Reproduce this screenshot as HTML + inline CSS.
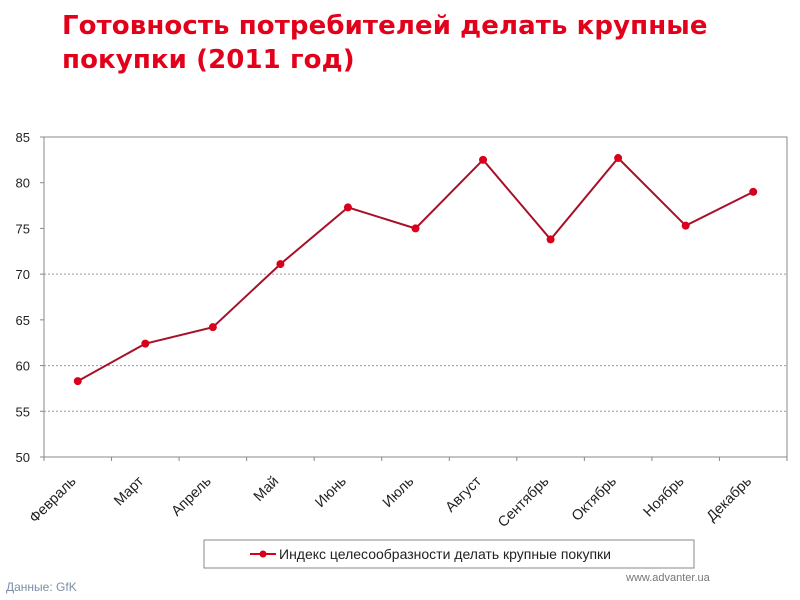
<!DOCTYPE html>
<html><head><meta charset="utf-8"><style>
body{margin:0;width:800px;height:600px;background:#fff;overflow:hidden;position:relative;font-family:"Liberation Sans","DejaVu Sans",sans-serif}
#title{position:absolute;left:62px;top:9px;color:#e2001a;font-family:"DejaVu Sans",sans-serif;font-weight:bold;font-size:26px;line-height:34px;letter-spacing:0.1px}
#src{position:absolute;left:6px;top:580px;color:#7f8fa6;font-size:12px}
#site{position:absolute;left:626px;top:572px;color:#777;font-size:11px}
svg{position:absolute;left:0;top:0}
</style></head><body>
<div id="title">Готовность потребителей делать крупные<br>покупки (2011 год)</div>
<svg id="chart" width="800" height="600"></svg>
<div id="src">Данные: GfK</div>
<div id="site">www.advanter.ua</div>
<script>
const categories=["Февраль","Март","Апрель","Май","Июнь","Июль","Август","Сентябрь","Октябрь","Ноябрь","Декабрь"];
const values=[58.3,62.4,64.2,71.1,77.3,75.0,82.5,73.8,82.7,75.3,79.0];
const yTicks=[50,55,60,65,70,75,80,85];
const gridValues=[55,60,70];
const seriesName="Индекс целесообразности делать крупные покупки";
const ns="http://www.w3.org/2000/svg";
const svg=document.getElementById('chart');
const L=44,R=787,T=137,B=457,yMin=50,yMax=85;
const bw=(R-L)/categories.length;
const x=i=>L+bw*(i+0.5);
const y=v=>B-(v-yMin)/(yMax-yMin)*(B-T);
function mk(t,a,p){const e=document.createElementNS(ns,t);for(const k in a)e.setAttribute(k,a[k]);(p||svg).appendChild(e);return e;}
const frame=mk('rect',{x:L,y:T,width:R-L,height:B-T,fill:'#fff',stroke:'#888','stroke-width':1});


gridValues.forEach(v=>{const g=mk('line',{x1:L,x2:R,y1:y(v),y2:y(v),stroke:'#999','stroke-dasharray':'2,2','stroke-width':1});

});
yTicks.forEach(v=>{mk('line',{x1:L-4,x2:L,y1:y(v),y2:y(v),stroke:'#888'});
const t=mk('text',{x:L-14,y:y(v)+5,'text-anchor':'end','font-size':13,fill:'#222'});t.textContent=v;

});
for(let i=0;i<=categories.length;i++){mk('line',{x1:L+bw*i,x2:L+bw*i,y1:B,y2:B+4,stroke:'#888'});}
categories.forEach((c,i)=>{const t=mk('text',{transform:`translate(${x(i)-1},${B+25}) rotate(-45)`,'text-anchor':'end','font-size':14.5,fill:'#222'});t.textContent=c;

});
const line=mk('polyline',{points:values.map((v,i)=>x(i)+','+y(v)).join(' '),fill:'none',stroke:'#a8102a','stroke-width':2});


values.forEach((v,i)=>{const p=mk('circle',{cx:x(i),cy:y(v),r:4,fill:'#d9001b'});

});
const lg=mk('g',{});


mk('rect',{x:204,y:540,width:490,height:28,fill:'#fff',stroke:'#888'},lg);
mk('line',{x1:250,x2:276,y1:554,y2:554,stroke:'#d9001b','stroke-width':2},lg);
mk('circle',{cx:263,cy:554,r:3.5,fill:'#d9001b'},lg);
const lt=mk('text',{x:279,y:559,'font-size':14,fill:'#222'},lg);lt.textContent=seriesName;


</script>
</body></html>
